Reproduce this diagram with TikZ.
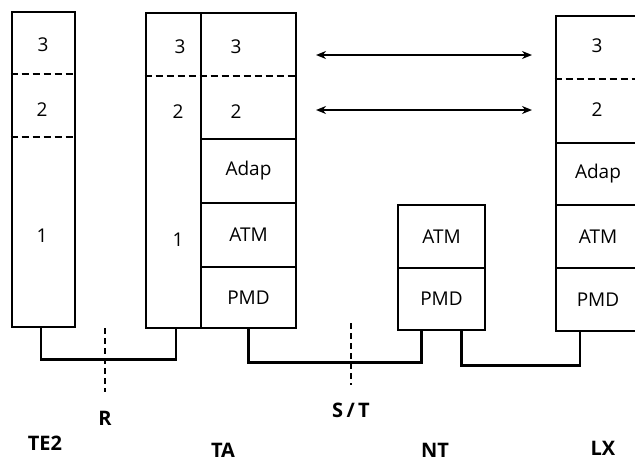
\documentclass[tikz,border=0pt]{standalone}
\usepackage{fontspec}
\setmainfont{Open Sans}
\usetikzlibrary{arrows.meta,positioning,calc}

\tikzset{
  cell/.style={draw, line width=2.6pt, inner sep=0pt, font=\fontsize{19}{22}\selectfont},
  layer/.style={font=\fontsize{19}{22}\selectfont, inner sep=1pt},
  tag/.style={font=\fontsize{20}{24}\selectfont\bfseries, inner sep=1pt},
  divider/.style={line width=2pt, dash pattern=on 7pt off 4pt},
  link/.style={line width=2.6pt},
  refpoint/.style={line width=2.6pt, dash pattern=on 6pt off 4pt},
  peer/.style={{Stealth[length=10pt,width=8pt]}-{Stealth[length=10pt,width=8pt]}, line width=2pt},
}

\begin{document}
\begin{tikzpicture}[x=1pt, y=-1pt]
    \useasboundingbox (0,0) rectangle (635,461);
    % protocol stacks: name/left/top/right/bottom/text
    \foreach \nm/\xa/\ya/\xb/\yb/\txt in {te2/12/12/75/327/, taL/146/13/201/328/, taU/201/13/296/139/, taAdap/201/139/296/203/Adap, taATM/201/203/296/267/ATM, taPMD/201/267/296/328/PMD, ntATM/398/205/485/268/ATM, ntPMD/398/268/485/330/PMD, lxU/556/16/640/143/, lxAdap/556/143/640/205/Adap, lxATM/556/205/640/268/ATM, lxPMD/556/268/640/331/PMD} {
        \node[cell, minimum width={(\xb-\xa)*1pt}, minimum height={(\yb-\ya)*1pt}] (\nm) at ({(\xa+\xb)/2},{(\ya+\yb)/2}) {\txt};
    }
    % dashed layer borders
    \draw[divider] (te2.west |- 0,74) -- (te2.east |- 0,74);
    \draw[divider] (te2.west |- 0,137) -- (te2.east |- 0,137);
    \draw[divider] (taL.west |- 0,76) -- (taU.east |- 0,76);
    \draw[divider] (lxU.west |- 0,79) -- (lxU.east |- 0,79);
    % layer numbers
    \foreach \nm/\x/\y/\lab in {te3/43/45/3, te2n/42/110/2, te1/42/236/1, tl3/180/47/3, tl2/178/112/2, tl1/178/240/1, tu3/236/47/3, tu2/236/112/2, lx3/597/46/3, lx2/597/110/2} {
        \node[layer] (\nm) at (\x,\y) {\lab};
    }
    % peer-to-peer arrows
    \coordinate (p3a) at (316,55);
    \coordinate (p3b) at (532,55);
    \coordinate (p2a) at (316,110);
    \coordinate (p2b) at (532,110);
    \draw[peer] (p3a) -- (p3b);
    \draw[peer] (p2a) -- (p2b);
    % physical links
    \draw[link] ([xshift=-2.5pt]te2.south) -- ++(0,31) -| ([xshift=2.5pt]taL.south);
    \draw[link] (taPMD.south) -- ++(0,33) -| ([xshift=-20pt]ntPMD.south);
    \draw[link] ([xshift=20pt]ntPMD.south) -- ++(0,34) -| ([xshift=-18pt]lxPMD.south);
    % reference points
    \node[tag] (rLbl) at (105,418) {R};
    \node[tag] (stLbl) at (351,410) {S\,/\,T};
    \coordinate (rTop) at (105,328);
    \coordinate (rBot) at (105,392);
    \coordinate (stTop) at (351,323);
    \coordinate (stBot) at (351,385);
    \draw[refpoint] (rTop) -- (rBot);
    \draw[refpoint] (stTop) -- (stBot);
    % equipment names
    \node[tag] (te2Lbl) at (45,443) {TE2};
    \node[tag] (taLbl) at (223,450) {TA};
    \node[tag] (ntLbl) at (435,450) {NT};
    \node[tag] (lxLbl) at (603,448) {LX};
\end{tikzpicture}
\end{document}
